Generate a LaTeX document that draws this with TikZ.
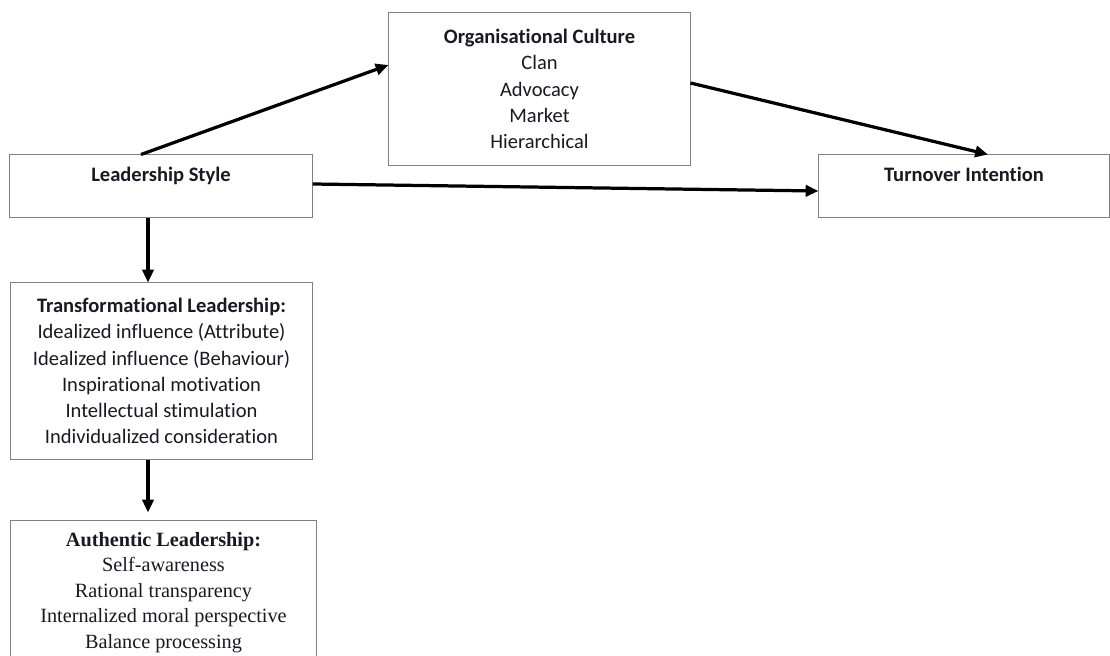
\documentclass[tikz,border=0pt]{standalone}
\usepackage{fontspec}
\setmainfont{Carlito}[Ligatures=NoCommon]
\newfontfamily\timesfont{Liberation Serif}
\usetikzlibrary{positioning,arrows.meta}
\definecolor{boxgray}{RGB}{128,128,128}
\definecolor{inkdark}{RGB}{25,25,35}

\tikzset{
  conbox/.style={draw=boxgray,line width=0.7pt,fill=white,text=inkdark,
    align=center,inner sep=0pt,font=\fontsize{14.6}{18.6}\selectfont},
  headbox/.style={conbox,font=\fontsize{14.6}{18.6}\selectfont\bfseries,
    text height=10pt,text depth=16pt},
  link/.style={line width=2.3pt,-{Triangle[length=0.32cm,width=0.28cm]}}
}

\begin{document}
\begin{tikzpicture}[x=0.025cm,y=-0.025cm]
        \useasboundingbox (0,0) rectangle (1110,656);
        \clip (0,0) rectangle (1110,656);

        \node[conbox,minimum width=7.525cm,minimum height=3.8cm]
          (culture) at (539.5,89)
          {\textbf{Organisational Culture}\\Clan\\Advocacy\\Market\\Hierarchical};

        \node[headbox,minimum width=7.55cm,minimum height=1.55cm]
          (style) at (161,186) {Leadership Style};
        \node[headbox,minimum width=7.25cm,minimum height=1.55cm]
          (turnover) at (964,186) {Turnover Intention};

        \node[conbox,minimum width=7.525cm,minimum height=4.4cm]
          (transform) at (161.5,371)
          {\textbf{Transformational Leadership:}\\
           Idealized influence (Attribute)\\
           Idealized influence (Behaviour)\\
           Inspirational motivation\\
           Intellectual stimulation\\
           Individualized consideration};

        \node[conbox,font=\timesfont\fontsize{14.4}{18.2}\selectfont,
              minimum width=7.625cm,minimum height=3.575cm]
          (authentic) at (163.5,592.5)
          {\textbf{Authentic Leadership:}\\
           Self-awareness\\
           Rational transparency\\
           Internalized moral perspective\\
           Balance processing};

        % arrows between the constructs
        \coordinate (spine) at (148,0);
        \draw[link] ([xshift=-0.5cm]style.north) -- ([yshift=0.6cm]culture.west);
        \draw[link] ([yshift=0.15cm]culture.east) -- ([xshift=0.6cm]turnover.north);
        \draw[link] ([yshift=0.05cm]style.east) -- ([yshift=-0.125cm]turnover.west);
        \draw[link] (style.south -| spine) -- (transform.north -| spine);
        \draw[link,shorten >=0.2cm] (transform.south -| spine) -- (authentic.north -| spine);
      \end{tikzpicture}
\end{document}
